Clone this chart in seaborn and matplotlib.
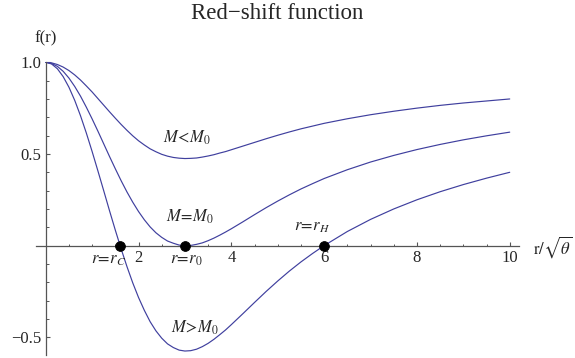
import matplotlib
matplotlib.use("Agg")
import matplotlib.pyplot as plt
from matplotlib.ticker import MultipleLocator, FixedLocator
import seaborn as sns
import pandas as pd

# values
r_vals = [0, 0.125, 0.25, 0.375, 0.5, 0.625, 0.75, 0.875, 1.0, 1.125, 1.25,
          1.375, 1.5, 1.625, 1.75, 1.875, 2.0, 2.125, 2.25, 2.375, 2.5, 2.625,
          2.75, 2.875, 3.0, 3.125, 3.25, 3.375, 3.5, 3.625, 3.75, 3.875, 4.0,
          4.25, 4.5, 4.75, 5.0, 5.25, 5.5, 5.75, 6.0, 6.5, 7.0, 7.5, 8.0, 8.5,
          9.0, 9.5, 10.0]
f_below = [1.0, 0.997, 0.988, 0.974, 0.955, 0.931, 0.903, 0.871, 0.838, 0.802,
           0.766, 0.730, 0.695, 0.661, 0.629, 0.599, 0.572, 0.549, 0.528, 0.512,
           0.498, 0.488, 0.481, 0.477, 0.475, 0.476, 0.478, 0.483, 0.489, 0.496,
           0.505, 0.513, 0.523, 0.543, 0.563, 0.583, 0.602, 0.620, 0.637, 0.652,
           0.667, 0.692, 0.714, 0.733, 0.750, 0.765, 0.778, 0.789, 0.800]
f_equal = [1.0, 0.994, 0.978, 0.951, 0.914, 0.868, 0.815, 0.755, 0.691, 0.624,
           0.555, 0.486, 0.419, 0.354, 0.293, 0.237, 0.186, 0.141, 0.102, 0.070,
           0.045, 0.025, 0.013, 0.003, 0.000, 0.001, 0.007, 0.015, 0.027, 0.041,
           0.057, 0.074, 0.092, 0.130, 0.169, 0.207, 0.243, 0.277, 0.309, 0.338,
           0.366, 0.414, 0.456, 0.492, 0.524, 0.552, 0.577, 0.599, 0.619]
f_above = [1.0, 0.991, 0.965, 0.922, 0.864, 0.792, 0.708, 0.614, 0.513, 0.407,
           0.299, 0.190, 0.084, -0.018, -0.114, -0.203, -0.283, -0.353, -0.415,
           -0.465, -0.505, -0.536, -0.556, -0.570, -0.575, -0.573, -0.565, -0.551,
           -0.533, -0.511, -0.486, -0.460, -0.431, -0.371, -0.310, -0.250, -0.193,
           -0.139, -0.089, -0.043, 0.000, 0.077, 0.143, 0.200, 0.250, 0.294,
           0.333, 0.368, 0.400]

# special radii on f=0
pt_r = [1.6, 3.0, 6.0]
pt_f = [0.0, 0.0, 0.0]

x_ticks = [2, 4, 6, 8, 10]
y_ticks = [-0.5, 0.5, 1.0]

sns.set_theme(style="white")
plt.rcParams['font.family'] = ['Liberation Serif', 'DejaVu Serif']
plt.rcParams['mathtext.fontset'] = 'stix'
plt.rcParams['axes.unicode_minus'] = True

df = pd.concat([
    pd.DataFrame({'r': r_vals, 'f': f_below, 'curve': 'below'}),
    pd.DataFrame({'r': r_vals, 'f': f_equal, 'curve': 'equal'}),
    pd.DataFrame({'r': r_vals, 'f': f_above, 'curve': 'above'}),
])

line_col = '#3f3f9e'
axis_col = '#555555'

fig = plt.figure(figsize=(5.75, 3.58), dpi=100)
ax = fig.add_axes([36 / 575, 3.3 / 358, 483 / 575, 292.4 / 358])

sns.lineplot(data=df, x='r', y='f', hue='curve', palette=[line_col] * 3,
             estimator=None, sort=False, legend=False, linewidth=0.85, ax=ax)
sns.scatterplot(x=pt_r, y=pt_f, color='black', s=50, edgecolor='black',
                zorder=5, clip_on=False, ax=ax)

ax.set_xlim(-0.21, 10.2)
ax.set_ylim(-0.595, 1.0)

# axes crossing at the origin
for side in ['top', 'right']:
    ax.spines[side].set_visible(False)
ax.spines['left'].set_position(('data', 0))
ax.spines['bottom'].set_position(('data', 0))
for side in ['left', 'bottom']:
    ax.spines[side].set_color(axis_col)
    ax.spines[side].set_linewidth(0.9)

ax.xaxis.set_major_locator(FixedLocator(x_ticks))
ax.yaxis.set_major_locator(FixedLocator(y_ticks))
ax.xaxis.set_minor_locator(MultipleLocator(0.5))
ax.yaxis.set_minor_locator(MultipleLocator(0.1))
ax.set_xticklabels([str(t) for t in x_ticks])
ax.set_yticklabels(['\u22120.5', '0.5', '1.0'])
ax.tick_params(which='major', direction='in', length=3.2, width=0.8,
               color=axis_col, labelsize=12, pad=3)
ax.tick_params(which='minor', direction='in', length=1.8, width=0.7,
               color=axis_col)
ax.tick_params(axis='x', which='both', bottom=True)
ax.tick_params(axis='y', which='both', left=True)
ax.set_xlabel('')
ax.set_ylabel('')

ax.set_title('Red\u2212shift function', fontsize=16.5, pad=31)

ax.text(0, 1.133, 'f(r)', ha='center', va='center', fontsize=12, clip_on=False)
ax.text(10.5, -0.01, r'$\mathrm{r}/\sqrt{\theta}$', ha='left', va='center',
        fontsize=12, clip_on=False)

lab = dict(ha='center', va='center', fontsize=12)
ax.text(3.05, 0.586, r'$M\!<\!M_0$', **lab)
ax.text(3.11, 0.156, r'$M\!=\!M_0$', **lab)
ax.text(3.22, -0.446, r'$M\!>\!M_0$', **lab)
ax.text(1.36, -0.081, r'$r\!=\!r_C$', **lab)
ax.text(3.03, -0.081, r'$r\!=\!r_0$', **lab)
ax.text(5.74, 0.100, r'$r\!=\!r_H$', **lab)

fig.savefig('out.png', dpi=100)
